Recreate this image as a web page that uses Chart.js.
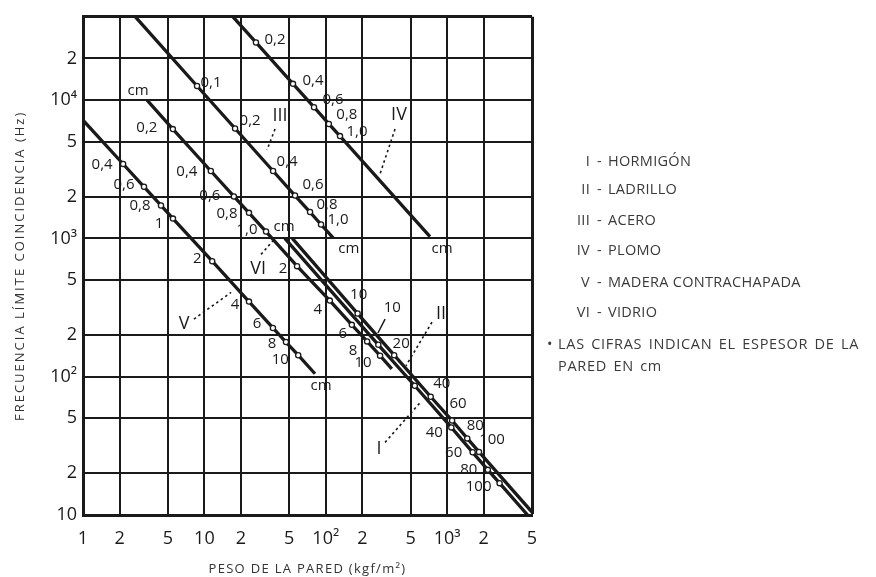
<!DOCTYPE html>
<html>
<head>
<meta charset="utf-8">
<title>Frecuencia límite de coincidencia</title>
<script src="https://cdn.jsdelivr.net/npm/chart.js@4.4.1/dist/chart.umd.min.js"></script>
<style>
  body { margin: 0; background: #fff; }
  #wrap { position: relative; width: 876px; height: 577px; overflow: hidden; }
  #grafico { position: absolute; left: 0; top: 0; }
  .fila { position: absolute; font: 14.5px 'Open Sans', sans-serif; line-height: 18px; color: #3a3a3a; white-space: nowrap; letter-spacing: 0.3px; }
</style>
</head>
<body>
<div id="wrap">
  <canvas id="grafico" width="876" height="577"></canvas>
  <div id="leyenda"></div>
</div>
<script>
// ejes (escala logaritmica)
const xTicks = [1, 2, 5, 10, 20, 50, 100, 200, 500, 1000, 2000, 5000];
const xTickLabels = ['1', '2', '5', '10', '2', '5', '10²', '2', '5', '10³', '2', '5'];
const yTicks = [10, 20, 50, 100, 200, 500, 1000, 2000, 5000, 10000, 20000, 40000];
const yTickLabels = ['10', '2', '5', '10²', '2', '5', '10³', '2', '5', '10⁴', '2', ''];

const romanos = ['I', 'II', 'III', 'IV', 'V', 'VI'];
const materiales = ['HORMIGÓN', 'LADRILLO', 'ACERO', 'PLOMO', 'MADERA CONTRACHAPADA', 'VIDRIO'];

// I - hormigon: espesor (cm), peso (kgf/m2), frecuencia (Hz)
const hormigonEspesor = [null, '10', '20', '40', '60', '80', '100', null];
const hormigonPeso = [46, 271, 541, 1082, 1622, 2163, 2704, 4600];
const hormigonFrec = [1000, 170, 86, 43, 28.4, 21.2, 17, 10];

// II - ladrillo
const ladrilloEspesor = [null, '10', '20', '40', '60', '80', '100', null];
const ladrilloPeso = [53, 183, 366, 732, 1098, 1464, 1830, 5000];
const ladrilloFrec = [1000, 286, 143, 71.6, 48.2, 35.8, 28.6, 10.5];

// III - acero
const aceroEspesor = [null, '0,1', '0,2', '0,4', '0,6', '0,8', '1,0', null];
const aceroPeso = [2.7, 8.7, 17.9, 36.8, 55.8, 74.2, 91.4, 115];
const aceroFrec = [40000, 12640, 6230, 3070, 2040, 1550, 1260, 1007];

// IV - plomo
const plomoEspesor = [null, '0,2', '0,4', '0,6', '0,8', '1,0', null];
const plomoPeso = [17.2, 26.6, 53.7, 80, 106, 131, 722];
const plomoFrec = [40000, 26100, 13100, 8880, 6720, 5490, 1030];

// V - madera contrachapada
const maderaEspesor = [null, '0,4', '0,6', '0,8', '1', '2', '4', '6', '8', '10', null];
const maderaPeso = [1, 2.14, 3.18, 4.39, 5.51, 11.6, 23.3, 36.7, 47, 59.3, 81.5];
const maderaFrec = [7150, 3450, 2360, 1730, 1390, 684, 349, 225, 178, 143, 105];

// VI - vidrio
const vidrioEspesor = [null, '0,2', '0,4', '0,6', '0,8', '1,0', '2', '4', '6', '8', '10', null];
const vidrioPeso = [3.37, 5.5, 11.3, 17.5, 23.3, 32.2, 58, 108, 164, 219, 280, 350];
const vidrioFrec = [10000, 6170, 3070, 2010, 1530, 1120, 630, 355, 237, 180, 142, 114];

const series = [
    {id: 'I', peso: hormigonPeso, frec: hormigonFrec, esp: hormigonEspesor},
    {id: 'II', peso: ladrilloPeso, frec: ladrilloFrec, esp: ladrilloEspesor},
    {id: 'III', peso: aceroPeso, frec: aceroFrec, esp: aceroEspesor},
    {id: 'IV', peso: plomoPeso, frec: plomoFrec, esp: plomoEspesor},
    {id: 'V', peso: maderaPeso, frec: maderaFrec, esp: maderaEspesor},
    {id: 'VI', peso: vidrioPeso, frec: vidrioFrec, esp: vidrioEspesor}
];

// desplazamiento (px) de cada cifra respecto a su punto
const desplaz = {
    I: [null, [14, -37], null, [-17, 5], [-19, 0], [-19, 0], [-21, 4], null],
    II: [null, [1, -19], [7, -11], [11, -13], [6, -17], [8, -13], [13, -12], null],
    III: [null, [14, -3], [15, -8], [14, -9], [18, -11], [17, -7], [17, -5], null],
    IV: [null, [19, -3], [20, -3], [19, -7], [18, -9], [17, -4], null],
    V: [null, [-21, 1], [-20, -2], [-21, 0], [-14, 5], [-15, -2], [-14, 3], [-16, -4], [-14, 2], [-18, 5], null],
    VI: [null, [-26, -1], [-24, 1], [-24, -1], [-22, 1], [-19, -2], [-14, 3], [-12, 9], [-9, 9], [-14, 9], [-17, 7], null]
};

// rotulos de las rectas con su linea de puntos (coordenadas de datos)
const rotulos = [
    {t: 'I', p: 275, f: 30.3, de: [308, 33.5], a: [598, 64.9]},
    {t: 'II', p: 890, f: 283, de: [750, 248], a: [458, 120]},
    {t: 'III', p: 42, f: 7640, de: [38.2, 6170], a: [32.8, 4360]},
    {t: 'IV', p: 401, f: 7760, de: [372, 6170], a: [280, 2925]},
    {t: 'V', p: 6.8, f: 240, de: [8.2, 261], a: [16.6, 407]},
    {t: 'VI', p: 27.7, f: 597, de: [29.3, 766], a: [37.5, 981]}
];
const unidades = [[2.84, 11750], [45.3, 1216], [155, 845], [907, 845], [91.4, 86]];
const flecha = [[308, 261], [269, 207]];

const FUENTE = "'Open Sans', sans-serif";
const TINTA = '#1a1a1a';

const anotaciones = {
    id: 'anotaciones',
    afterDatasetsDraw(chart) {
        const ctx = chart.ctx;
        const sx = chart.scales.x, sy = chart.scales.y;
        const px = (p, f) => [sx.getPixelForValue(p), sy.getPixelForValue(f)];
        ctx.save();
        ctx.fillStyle = TINTA;
        ctx.textAlign = 'center';
        ctx.textBaseline = 'middle';

        // cifras de espesor
        ctx.font = '15px ' + FUENTE;
        series.forEach((s, di) => {
            const meta = chart.getDatasetMeta(di);
            s.esp.forEach((e, i) => {
                const d = desplaz[s.id][i];
                if (e === null || !d) return;
                const pt = meta.data[i];
                ctx.fillText(e, pt.x + d[0], pt.y + d[1]);
            });
        });

        // cm
        unidades.forEach(u => {
            const [x, y] = px(u[0], u[1]);
            ctx.fillText('cm', x, y);
        });

        // numeros romanos y lineas de puntos
        ctx.font = '18px ' + FUENTE;
        ctx.strokeStyle = TINTA;
        ctx.lineWidth = 1.6;
        rotulos.forEach(r => {
            const [x, y] = px(r.p, r.f);
            ctx.fillText(r.t, x, y);
            const a = px(r.de[0], r.de[1]);
            const b = px(r.a[0], r.a[1]);
            ctx.setLineDash([2.5, 3]);
            ctx.beginPath();
            ctx.moveTo(a[0], a[1]);
            ctx.lineTo(b[0], b[1]);
            ctx.stroke();
        });
        ctx.setLineDash([]);
        const f0 = px(flecha[0][0], flecha[0][1]);
        const f1 = px(flecha[1][0], flecha[1][1]);
        ctx.lineWidth = 1.5;
        ctx.beginPath();
        ctx.moveTo(f0[0], f0[1]);
        ctx.lineTo(f1[0], f1[1]);
        ctx.stroke();

        // titulos de los ejes
        ctx.font = '13px ' + FUENTE;
        ctx.fillStyle = '#333';
        ctx.letterSpacing = '1.3px';
        ctx.fillText('PESO DE LA PARED (kgf/m²)', (chart.chartArea.left + chart.chartArea.right) / 2, 569);
        ctx.letterSpacing = '2px';
        ctx.translate(20, (chart.chartArea.top + chart.chartArea.bottom) / 2);
        ctx.rotate(-Math.PI / 2);
        ctx.fillText('FRECUENCIA LÍMITE COINCIDENCIA (Hz)', 0, 0);
        ctx.restore();
    }
};

window.onload = function() {
    const ctx = document.getElementById('grafico').getContext('2d');

    const datasets = series.map(s => ({
        label: s.id,
        data: s.peso.map((p, i) => ({x: p, y: s.frec[i]})),
        showLine: true,
        borderColor: TINTA,
        borderWidth: 3.3,
        pointRadius: s.esp.map(e => e === null ? 0 : 2.6),
        pointBackgroundColor: '#fff',
        pointBorderColor: TINTA,
        pointBorderWidth: 1.3
    }));

    // la ultima linea de la reticula cierra el marco
    const grid = {
        color: TINTA,
        lineWidth: c => (c.index === 11 ? 3 : 2),
        drawTicks: false
    };

    new Chart(ctx, {
        type: 'scatter',
        data: {datasets: datasets},
        options: {
            responsive: false,
            animation: false,
            layout: {padding: {left: 0, right: 344, top: 14, bottom: 0}},
            plugins: {legend: {display: false}, tooltip: {enabled: false}},
            scales: {
                x: {
                    type: 'logarithmic',
                    min: 1,
                    max: 5000,
                    afterBuildTicks: s => { s.ticks = xTicks.map(v => ({value: v})); },
                    afterFit: s => { s.height = 62; },
                    ticks: {
                        callback: (v, i) => xTickLabels[i],
                        autoSkip: false,
                        maxRotation: 0,
                        padding: 13,
                        color: TINTA,
                        font: {family: FUENTE, size: 18}
                    },
                    grid: grid,
                    border: {color: TINTA, width: 3}
                },
                y: {
                    type: 'logarithmic',
                    min: 10,
                    max: 40000,
                    afterBuildTicks: s => { s.ticks = yTicks.map(v => ({value: v})); },
                    afterFit: s => { s.width = 83; },
                    ticks: {
                        callback: (v, i) => yTickLabels[i],
                        autoSkip: false,
                        padding: 6,
                        color: TINTA,
                        font: {family: FUENTE, size: 18}
                    },
                    grid: grid,
                    border: {color: TINTA, width: 3}
                }
            }
        },
        plugins: [anotaciones]
    });

    // leyenda de materiales a la derecha
    const leyenda = document.getElementById('leyenda');
    const filas = [152, 180, 211, 241, 273, 303];
    function celda(texto, top, left, width, align) {
        const d = document.createElement('div');
        d.className = 'fila';
        d.style.top = top + 'px';
        d.style.left = left + 'px';
        if (width) {
            d.style.width = width + 'px';
            d.style.textAlign = align;
        }
        d.textContent = texto;
        leyenda.appendChild(d);
        return d;
    }
    romanos.forEach((r, i) => {
        celda(r, filas[i], 540, 50, 'right');
        celda('-', filas[i], 597, 0, '');
        celda(materiales[i], filas[i], 608, 0, '');
    });
    celda('•', 335, 547, 0, '');
    const n1 = celda('LAS CIFRAS INDICAN EL ESPESOR DE LA', 335, 558, 0, '');
    const n2 = celda('PARED EN cm', 357, 558, 0, '');
    [n1, n2].forEach(n => { n.style.letterSpacing = '0.7px'; n.style.wordSpacing = '2px'; });
};
</script>
</body>
</html>
